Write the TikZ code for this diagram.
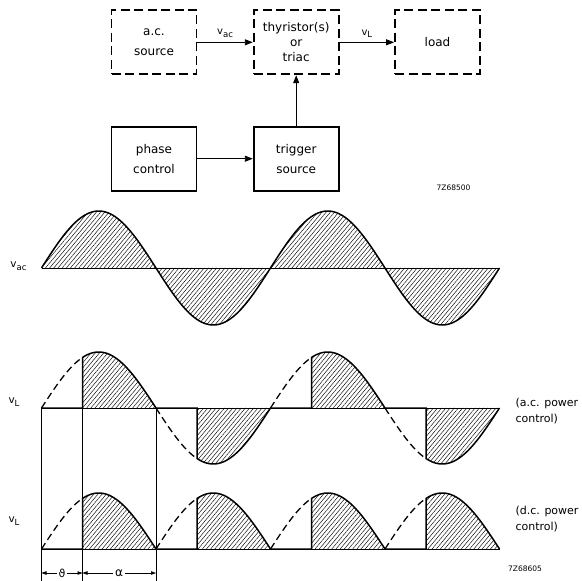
\documentclass[tikz,border=0pt]{standalone}
\usepackage{fontspec}
\setmainfont{DejaVu Sans}
\usetikzlibrary{arrows.meta, patterns.meta}

\newcommand{\lowidx}[1]{\raisebox{-0.45ex}{\fontsize{8.5}{9}\selectfont #1}}

\tikzstyle{dashbox} = [rectangle, draw, line width=1.8pt, dash pattern=on 9pt off 4.5pt, minimum width=85pt, minimum height=64pt, align=center, font=\fontsize{12}{19.5}\selectfont]
\tikzstyle{solidbox} = [rectangle, draw, line width=1.8pt, minimum width=85pt, minimum height=64pt, align=center, font=\fontsize{12}{20}\selectfont]
\tikzstyle{signal} = [line width=0.9pt, -{Triangle[length=8pt,width=6pt]}]
\tikzstyle{wave} = [line width=1.5pt]
\tikzstyle{offwave} = [line width=1.3pt, dash pattern=on 7pt off 4pt]
\tikzstyle{hatched} = [pattern={Lines[angle=50,distance=3.2pt,line width=0.45pt]}]
\tikzstyle{guide} = [line width=0.4pt]
\tikzstyle{dim} = [line width=0.6pt, -{Triangle[length=5pt,width=3.5pt]}]
\tikzstyle{code} = [font=\fontsize{7.5}{8}\selectfont]

\begin{document}
\begin{tikzpicture}[x=1pt, y=-1pt]

    \useasboundingbox (0,0) rectangle (582,581);

    % Block diagram
    \node (acsrc) at (154,42.3) [dashbox] {a.c.\\source};
    \node (thyr) at (296.2,42.3) [dashbox, font=\fontsize{12}{15}\selectfont] {thyristor(s)\\or\\triac};
    \node (load) at (437.5,42.3) [dashbox] {load};
    \node (phase) at (154,158.7) [solidbox] {phase\\control};
    \node (trig) at (296.2,158.7) [solidbox] {trigger\\source};

    \draw[signal] (acsrc) -- (thyr) node[midway, above=1pt] {v\lowidx{ac}};
    \draw[signal] (thyr) -- (load) node[midway, above=1pt] {v\lowidx{L}};
    \draw[signal] (trig) -- (thyr);
    \draw[signal] (phase) -- (trig);

    \node (code1) at (453.6,187.5) [code] {7Z68500};

    % Supply voltage v_ac
    \node (vac) at (18.5,266) {\fontsize{10.5}{10}\selectfont v\lowidx{ac}};
    \fill[hatched] (41.5,268) -- plot[domain=41.5:499.5, samples=200] (\x, {268-57*sin((\x-41.5)*1.5721)}) -- cycle;
    \draw[guide, line width=0.7pt] (41.5,268) -- (499.5,268);
    \draw[wave] plot[domain=41.5:499.5, samples=200] (\x, {268-57*sin((\x-41.5)*1.5721)});

    % Load voltage, a.c. power control
    \node (vlac) at (14,402) {\fontsize{10.5}{10}\selectfont v\lowidx{L}};
    \foreach \s/\t/\e in {41.5/82.5/156, 156/197/270.5, 270.5/311.5/385, 385/426/499.5} {
        \fill[hatched] (\t,408) -- plot[domain=\t:\e, samples=40] (\x, {408-56*sin((\x-41.5)*1.5721)}) -- cycle;
        \draw[guide, line width=0.6pt] (\t,408) -- (\e,408);
        \draw[offwave] plot[domain=\s:\t, samples=20] (\x, {408-56*sin((\x-41.5)*1.5721)});
        \draw[wave] (\s,408) -- (\t,408) -- plot[domain=\t:\e, samples=40] (\x, {408-56*sin((\x-41.5)*1.5721)});
    }
    \node (acpc) at (512,411) [anchor=west, align=left, font=\fontsize{11}{16}\selectfont] {(a.c. power\\control)};

    % Load voltage, d.c. power control
    \node (vldc) at (14,521) {\fontsize{10.5}{10}\selectfont v\lowidx{L}};
    \foreach \s/\t/\e in {41.5/82.5/156, 156/197/270.5, 270.5/311.5/385, 385/426/499.5} {
        \fill[hatched] (\t,549) -- plot[domain=\t:\e, samples=40] (\x, {549-56*abs(sin((\x-41.5)*1.5721))}) -- cycle;
        \draw[guide, line width=0.6pt] (\t,549) -- (\e,549);
        \draw[offwave] plot[domain=\s:\t, samples=20] (\x, {549-56*abs(sin((\x-41.5)*1.5721))});
        \draw[wave] (\s,549) -- (\t,549) -- plot[domain=\t:\e, samples=40] (\x, {549-56*abs(sin((\x-41.5)*1.5721))});
    }
    \node (dcpc) at (512,519) [anchor=west, align=left, font=\fontsize{11}{16}\selectfont] {(d.c. power\\control)};

    % Trigger delay and conduction angle
    \coordinate (start) at (41.5,573);
    \coordinate (fire) at (82.5,573);
    \coordinate (zero) at (156,573);
    \draw[guide] (41.5,408) -- (41.5,581);
    \draw[guide] (82.5,408) -- (82.5,581);
    \draw[guide] (156,408) -- (156,581);
    \node (theta) at (62,573) [inner sep=1.5pt, font=\fontsize{11}{11}\selectfont] {ϑ};
    \node (alpha) at (119,573) [inner sep=2pt, font=\fontsize{12}{12}\selectfont] {α};
    \draw[dim] (theta) -- (start);
    \draw[dim] (theta) -- (fire);
    \draw[dim] (alpha) -- (fire);
    \draw[dim] (alpha) -- (zero);

    \node (code2) at (525,569) [code] {7Z68605};

\end{tikzpicture}
\end{document}
